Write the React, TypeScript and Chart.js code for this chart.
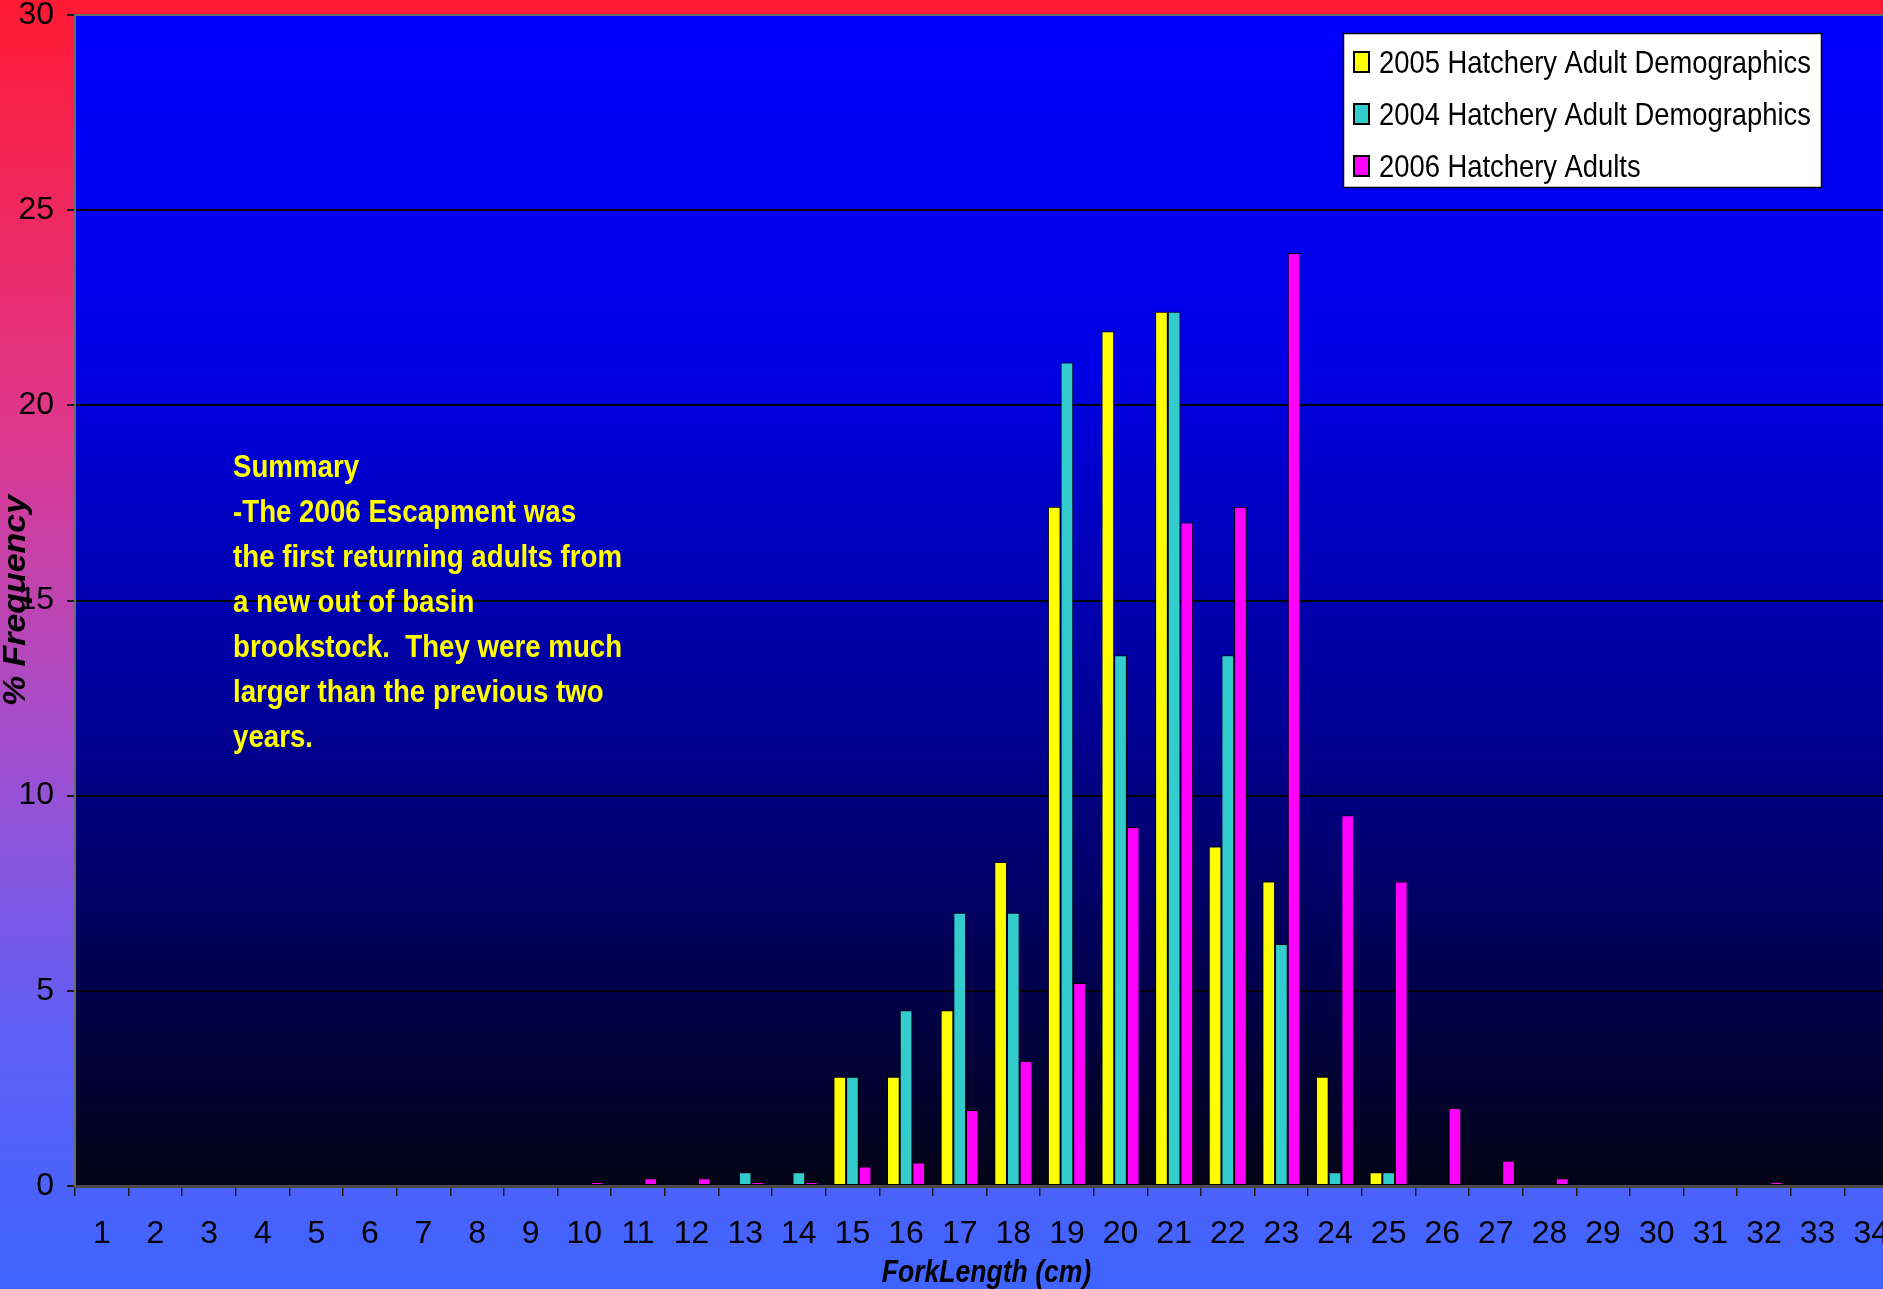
import React, { useEffect, useRef } from 'react';
import { Chart, registerables } from 'chart.js';

Chart.register(...registerables);

// ---------- data ----------
const categories = [
  '1', '2', '3', '4', '5', '6', '7', '8', '9', '10', '11', '12', '13', '14', '15', '16', '17',
  '18', '19', '20', '21', '22', '23', '24', '25', '26', '27', '28', '29', '30', '31', '32', '33', '34',
];

const series2005: (number | null)[] = [
  null, null, null, null, null, null, null, null, null, null, null, null, null, null,
  2.8, 2.8, 4.5, 8.3, 17.4, 21.9, 22.4, 8.7, 7.8, 2.8, 0.35,
  null, null, null, null, null, null, null, null, null,
];

const series2004: (number | null)[] = [
  null, null, null, null, null, null, null, null, null, null, null, null, 0.35, 0.35,
  2.8, 4.5, 7.0, 7.0, 21.1, 13.6, 22.4, 13.6, 6.2, 0.35, 0.35,
  null, null, null, null, null, null, null, null, null,
];

const series2006: (number | null)[] = [
  null, null, null, null, null, null, null, null, null, 0.1, 0.2, 0.2, 0.1, 0.1,
  0.5, 0.6, 1.95, 3.2, 5.2, 9.2, 17.0, 17.4, 23.9, 9.5, 7.8,
  2.0, 0.65, 0.2, null, null, null, 0.1, null, null,
];

const seriesLabels = [
  '2005 Hatchery Adult Demographics',
  '2004 Hatchery Adult Demographics',
  '2006 Hatchery Adults',
];
const seriesColors = ['#FFFF00', '#33CCCC', '#FF00FF'];

const yTickValues = [0, 5, 10, 15, 20, 25, 30];

const xTitle = 'ForkLength (cm)';
const yTitle = '% Frequency';

const summaryLines = [
  'Summary',
  '-The 2006 Escapment was',
  'the first returning adults from',
  'a new out of basin',
  'brookstock.  They were much',
  'larger than the previous two',
  'years.',
];

// ---------- drawing helpers ----------
const TEXT_FAMILY = '"Liberation Sans", Arial, Helvetica, sans-serif';
const TICK_FAMILY = '"Liberation Sans Narrow", "Arial Narrow", "Liberation Sans", Arial, sans-serif';

function drawText(
  ctx: CanvasRenderingContext2D,
  text: string,
  x: number,
  y: number,
  font: string,
  color: string,
  align: CanvasTextAlign,
  sx: number,
  sy: number,
  rotate = 0,
) {
  ctx.save();
  ctx.translate(x, y);
  if (rotate) ctx.rotate(rotate);
  ctx.scale(sx, sy);
  ctx.font = font;
  ctx.fillStyle = color;
  ctx.textAlign = align;
  ctx.textBaseline = 'alphabetic';
  ctx.fillText(text, 0, 0);
  ctx.restore();
}

const decorPlugin = {
  id: 'decor',
  beforeDraw(chart: any) {
    const { ctx, width, height, chartArea: ca } = chart;
    ctx.save();
    const outer = ctx.createLinearGradient(0, 0, 0, height);
    outer.addColorStop(0, 'rgb(255,26,51)');
    outer.addColorStop(0.33, 'rgb(222,55,140)');
    outer.addColorStop(0.57, 'rgb(165,78,205)');
    outer.addColorStop(0.8, 'rgb(95,95,245)');
    outer.addColorStop(1, 'rgb(62,100,255)');
    ctx.fillStyle = outer;
    ctx.fillRect(0, 0, width, height);

    const inner = ctx.createLinearGradient(0, ca.top, 0, ca.bottom);
    inner.addColorStop(0, 'rgb(0,0,255)');
    inner.addColorStop(0.3, 'rgb(0,0,228)');
    inner.addColorStop(0.6, 'rgb(0,0,150)');
    inner.addColorStop(0.8, 'rgb(0,0,85)');
    inner.addColorStop(1, 'rgb(3,3,22)');
    ctx.fillStyle = inner;
    ctx.fillRect(ca.left, ca.top, ca.right - ca.left, ca.bottom - ca.top);
    ctx.restore();
  },
  afterDraw(chart: any) {
    const { ctx, chartArea: ca } = chart;
    ctx.save();
    // top plot border
    ctx.strokeStyle = '#6a6a6a';
    ctx.lineWidth = 2;
    ctx.beginPath();
    ctx.moveTo(ca.left, ca.top);
    ctx.lineTo(ca.right, ca.top);
    ctx.stroke();

    // legend box
    const lx = 1343, ly = 33, lw = 478, lh = 154;
    ctx.fillStyle = '#FFFFFF';
    ctx.fillRect(lx, ly, lw, lh);
    ctx.strokeStyle = '#000';
    ctx.lineWidth = 1.5;
    ctx.strokeRect(lx + 0.5, ly + 0.5, lw, lh);
    const centers = [62, 114, 166];
    chart.data.datasets.forEach((ds: any, i: number) => {
      const cy = centers[i];
      ctx.fillStyle = ds.backgroundColor;
      ctx.fillRect(1354, cy - 10, 15, 20);
      ctx.strokeStyle = '#000';
      ctx.lineWidth = 2;
      ctx.strokeRect(1354, cy - 10, 15, 20);
      drawText(ctx, ds.label, 1379, cy + 11, `32px ${TEXT_FAMILY}`, '#000', 'left', 0.855, 1);
    });

    // summary annotation
    summaryLines.forEach((line, i) => {
      drawText(ctx, line, 233, 477 + i * 45, `bold 32px ${TEXT_FAMILY}`, '#FFFF00', 'left', 0.865, 1);
    });

    // axis titles
    drawText(ctx, xTitle, (ca.left + ca.right) / 2, 1282, `italic bold 32px ${TEXT_FAMILY}`, '#000', 'center', 0.83, 1);
    drawText(ctx, yTitle, 25, (ca.top + ca.bottom) / 2, `italic bold 32px ${TEXT_FAMILY}`, '#000', 'center', 1.06, 1, -Math.PI / 2);
    ctx.restore();
  },
};

export default function App() {
  const canvasRef = useRef<HTMLCanvasElement | null>(null);

  useEffect(() => {
    const canvas = canvasRef.current;
    if (!canvas) return;
    const seriesData = [series2005, series2004, series2006];
    const chart = new Chart(canvas, {
      type: 'bar',
      data: {
        labels: categories,
        datasets: seriesData.map((d, i) => ({
          label: seriesLabels[i],
          data: d,
          backgroundColor: seriesColors[i],
          borderColor: '#000000',
          borderWidth: 1,
          borderSkipped: false,
          categoryPercentage: 0.71,
          barPercentage: 1.0,
        })),
      },
      options: {
        responsive: false,
        animation: false,
        devicePixelRatio: 1,
        layout: { padding: { top: 15, left: 0, right: 0, bottom: 0 } },
        plugins: {
          legend: { display: false },
          tooltip: { enabled: false },
          title: { display: false },
        },
        scales: {
          x: {
            type: 'category',
            offset: true,
            grid: {
              offset: true,
              drawOnChartArea: false,
              drawTicks: true,
              tickLength: 10,
              tickColor: '#1a1a1a',
              lineWidth: 1.5,
            },
            border: { display: true, color: '#4a4a4a', width: 3 },
            ticks: {
              color: '#000',
              font: { family: TICK_FAMILY, size: 32, lineHeight: '76px' },
              padding: 0,
              autoSkip: false,
              maxRotation: 0,
              minRotation: 0,
            },
            afterFit: (s: any) => {
              s.height = 103;
            },
          },
          y: {
            type: 'linear',
            min: 0,
            max: 30,
            afterBuildTicks: (s: any) => {
              s.ticks = yTickValues.map((v) => ({ value: v }));
            },
            ticks: {
              color: '#000',
              font: { family: TICK_FAMILY, size: 32, lineHeight: '1px' },
              padding: 13,
            },
            grid: {
              color: '#000',
              lineWidth: 2,
              tickLength: 8,
              tickColor: '#1a1a1a',
            },
            border: { display: true, color: '#6a6a6a', width: 2 },
            afterFit: (s: any) => {
              s.width = 75;
            },
          },
        },
      } as any,
      plugins: [decorPlugin],
    });
    return () => chart.destroy();
  }, []);

  return (
    <div
      style={{
        position: 'fixed',
        left: 0,
        top: 0,
        width: 1883,
        height: 1289,
        overflow: 'hidden',
      }}
    >
      <canvas ref={canvasRef} width={1898} height={1289} style={{ display: 'block' }} />
    </div>
  );
}
